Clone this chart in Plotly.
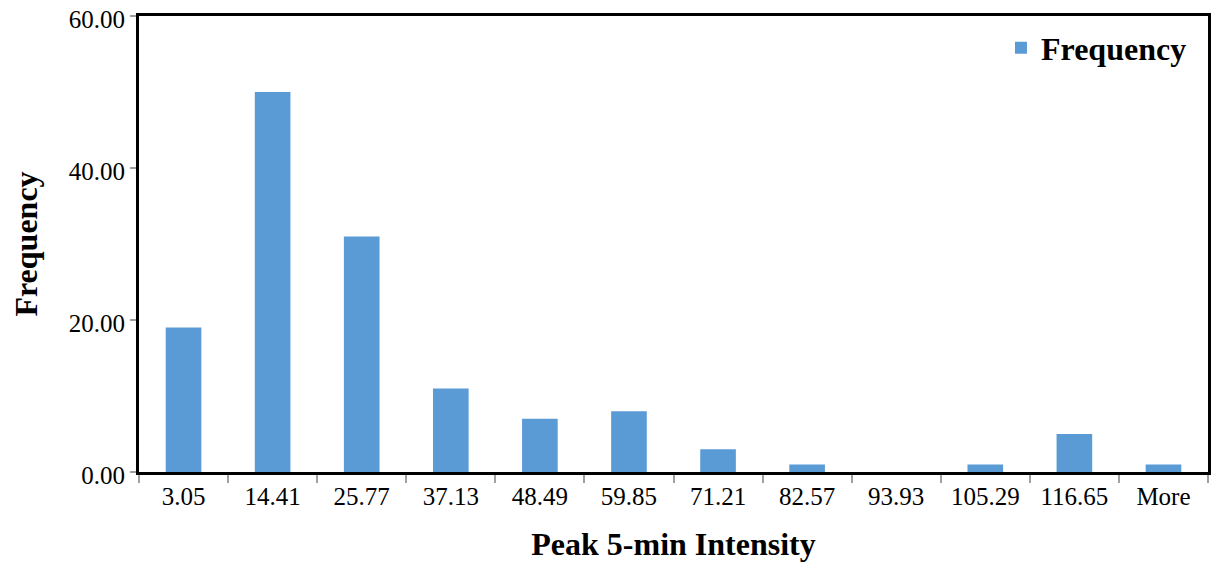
import plotly.graph_objects as go

bins = ['3.05', '14.41', '25.77', '37.13', '48.49', '59.85',
        '71.21', '82.57', '93.93', '105.29', '116.65', 'More']
frequency = [19, 50, 31, 11, 7, 8, 3, 1, 0, 1, 5, 1]

FONT = 'Liberation Serif, Times New Roman, serif'

fig = go.Figure()
fig.add_trace(go.Bar(
    x=bins,
    y=frequency,
    name='Frequency',
    marker=dict(color='#5b9bd5', line=dict(width=0)),
))

# page body has an 8px margin, so the figure is shrunk by that much
fig.update_layout(
    width=1217,
    height=561,
    margin=dict(l=131, r=17, t=8, b=97),
    plot_bgcolor='white',
    paper_bgcolor='white',
    font=dict(family=FONT, size=25, color='black'),
    bargap=0.6,
    showlegend=True,
    legend=dict(
        x=0.985, y=0.99, xanchor='right', yanchor='top',
        font=dict(family=FONT, size=32, color='black', weight='bold'),
        bgcolor='rgba(0,0,0,0)',
        itemwidth=30,
    ),
    xaxis=dict(
        title=dict(text='<b>Peak 5-min Intensity</b>',
                   font=dict(family=FONT, size=32), standoff=24),
        automargin=False,
        showline=True, linecolor='black', linewidth=3, mirror=True,
        ticks='outside', tickson='boundaries', ticklen=8,
        tickcolor='#a0a0a0', tickwidth=2,
        showgrid=False,
    ),
    yaxis=dict(
        title=dict(text='<b>Frequency</b>',
                   font=dict(family=FONT, size=32), standoff=28),
        automargin=False,
        ticklabeloverflow='allow',
        ticklabelshift=3,
        range=[0, 60], tickvals=[0, 20, 40, 60], tickformat='.2f',
        showline=True, linecolor='black', linewidth=3, mirror=True,
        ticks='outside', ticklen=6, tickcolor='#a0a0a0', tickwidth=2,
        showgrid=False, zeroline=False,
    ),
)

fig.write_html('out.html')
